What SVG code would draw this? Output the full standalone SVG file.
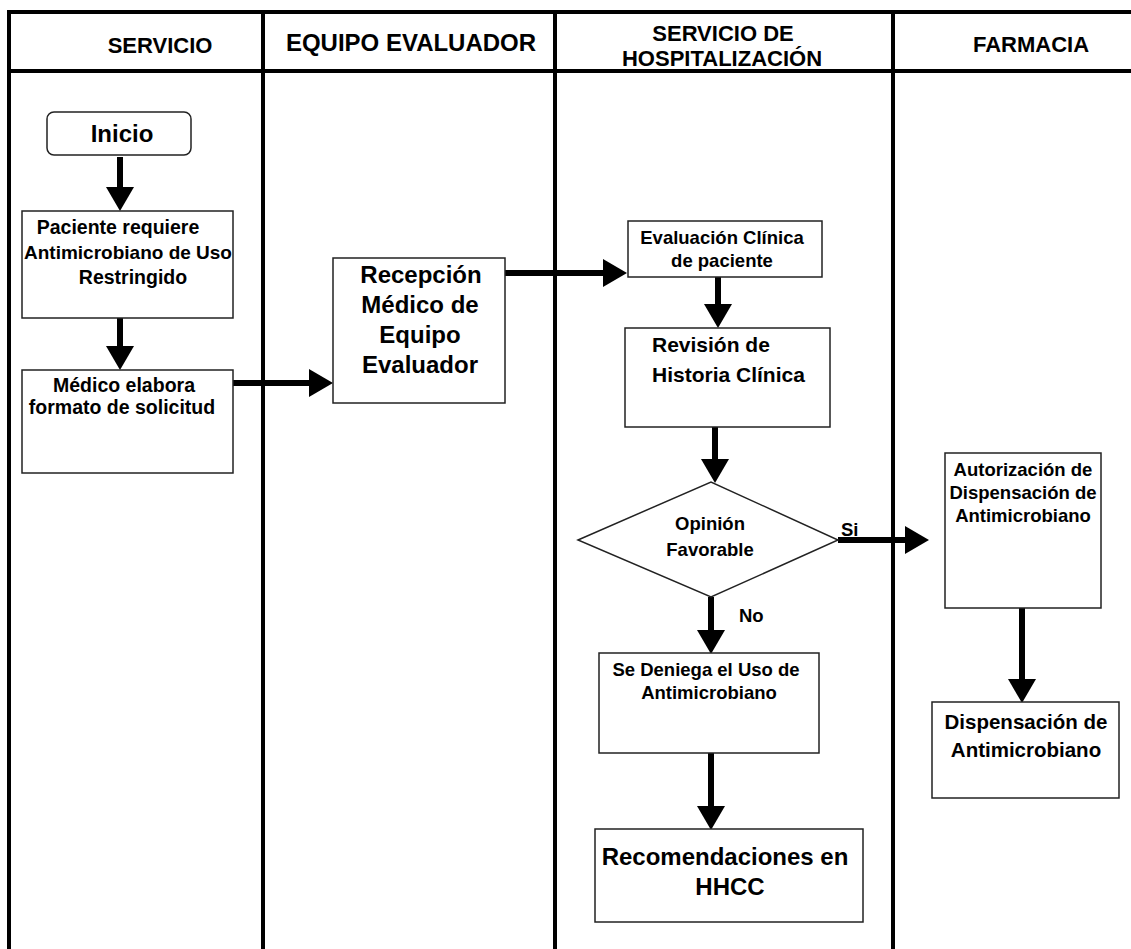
<svg xmlns="http://www.w3.org/2000/svg" width="1131" height="949" viewBox="0 0 1131 949">
<style>
text{font-family:"Liberation Sans",Arial,sans-serif;font-weight:bold;fill:#000}
.lane{stroke:#000;stroke-width:4;fill:none}
.box{fill:#fff;stroke:#222;stroke-width:1.5}
.hd{font-size:22px;text-anchor:middle}
.s{font-size:18.5px;text-anchor:middle}
.sb{font-size:19.5px;text-anchor:middle}
.m{font-size:21px}
.l{font-size:24px;text-anchor:middle}
.conn line{stroke:#000;stroke-width:6}
</style>
<defs>
<marker id="ah" markerUnits="userSpaceOnUse" markerWidth="24" markerHeight="28" refX="0" refY="14" orient="auto" viewBox="0 0 24 28">
<path d="M0,0 L24,14 L0,28 z" fill="#000"/>
</marker>
</defs>
<rect width="1131" height="949" fill="#fff"/>
<g id="lanes">
<line class="lane" x1="7" y1="12" x2="1131" y2="12"/>
<line class="lane" x1="9" y1="10" x2="9" y2="949"/>
<line class="lane" x1="9" y1="71" x2="1131" y2="71"/>
<line class="lane" x1="263" y1="12" x2="263" y2="949"/>
<line class="lane" x1="555" y1="12" x2="555" y2="949"/>
<line class="lane" x1="893" y1="12" x2="893" y2="949"/>
<text class="hd" x="160" y="53">SERVICIO</text>
<text class="hd" x="411" y="51" style="font-size:24px">EQUIPO EVALUADOR</text>
<text class="hd" x="723" y="41">SERVICIO DE</text>
<text class="hd" x="722" y="66">HOSPITALIZACIÓN</text>
<text class="hd" x="1031" y="52">FARMACIA</text>
</g>
<g class="conn" id="connectors">
<line x1="120" y1="157" x2="120" y2="187" marker-end="url(#ah)"/>
<line x1="120" y1="318" x2="120" y2="346" marker-end="url(#ah)"/>
<line x1="233" y1="383" x2="309" y2="383" marker-end="url(#ah)"/>
<line x1="505" y1="273" x2="603" y2="273" marker-end="url(#ah)"/>
<line x1="718" y1="277" x2="718" y2="304" marker-end="url(#ah)"/>
<line x1="715" y1="427" x2="715" y2="459" marker-end="url(#ah)"/>
<line x1="838" y1="540" x2="905" y2="540" marker-end="url(#ah)"/>
<line x1="711" y1="597" x2="711" y2="630" marker-end="url(#ah)"/>
<line x1="1022" y1="608" x2="1022" y2="679" marker-end="url(#ah)"/>
<line x1="711" y1="753" x2="711" y2="806" marker-end="url(#ah)"/>
<text class="s" x="841" y="536" style="text-anchor:start">Si</text>
<text class="s" x="739" y="622" style="text-anchor:start">No</text>
</g>
<g id="inicio">
<rect class="box" x="47" y="112" width="144" height="43" rx="7"/>
<text class="l" x="122" y="142">Inicio</text>
</g>
<g id="paciente">
<rect class="box" x="22" y="211" width="211" height="107"/>
<text class="sb" x="118" y="234">Paciente requiere</text>
<text class="sb" x="128" y="259" style="font-size:19px">Antimicrobiano de Uso</text>
<text class="sb" x="133" y="284">Restringido</text>
</g>
<g id="medico">
<rect class="box" x="22" y="370" width="211" height="103"/>
<text class="sb" x="124" y="392">Médico elabora</text>
<text class="sb" x="122" y="414">formato de solicitud</text>
</g>
<g id="recepcion">
<rect class="box" x="333" y="258" width="172" height="145"/>
<text class="l" x="421" y="283">Recepción</text>
<text class="l" x="420" y="313">Médico de</text>
<text class="l" x="420" y="343">Equipo</text>
<text class="l" x="420" y="373">Evaluador</text>
</g>
<g id="evaluacion">
<rect class="box" x="628" y="221" width="194" height="56"/>
<text class="s" x="722" y="244">Evaluación Clínica</text>
<text class="s" x="722" y="267">de paciente</text>
</g>
<g id="revision">
<rect class="box" x="625" y="328" width="205" height="99"/>
<text class="m" x="652" y="352">Revisión de</text>
<text class="m" x="652" y="382">Historia Clínica</text>
</g>
<g id="opinion">
<polygon class="box" points="578,540 711,482 838,540 711,597"/>
<text class="s" x="710" y="530">Opinión</text>
<text class="s" x="710" y="556">Favorable</text>
</g>
<g id="autorizacion">
<rect class="box" x="945" y="453" width="156" height="155"/>
<text class="s" x="1023" y="476">Autorización de</text>
<text class="s" x="1023" y="499">Dispensación de</text>
<text class="s" x="1023" y="522">Antimicrobiano</text>
</g>
<g id="dispensacion">
<rect class="box" x="932" y="702" width="187" height="96"/>
<text x="1026" y="729" style="font-size:20.5px;text-anchor:middle">Dispensación de</text>
<text x="1026" y="757" style="font-size:20.5px;text-anchor:middle">Antimicrobiano</text>
</g>
<g id="deniega">
<rect class="box" x="599" y="653" width="220" height="100"/>
<text class="s" x="706" y="676">Se Deniega el Uso de</text>
<text class="s" x="709" y="699">Antimicrobiano</text>
</g>
<g id="recomendaciones">
<rect class="box" x="595" y="829" width="268" height="93"/>
<text class="l" x="725" y="865">Recomendaciones en</text>
<text class="l" x="730" y="895">HHCC</text>
</g>
</svg>
